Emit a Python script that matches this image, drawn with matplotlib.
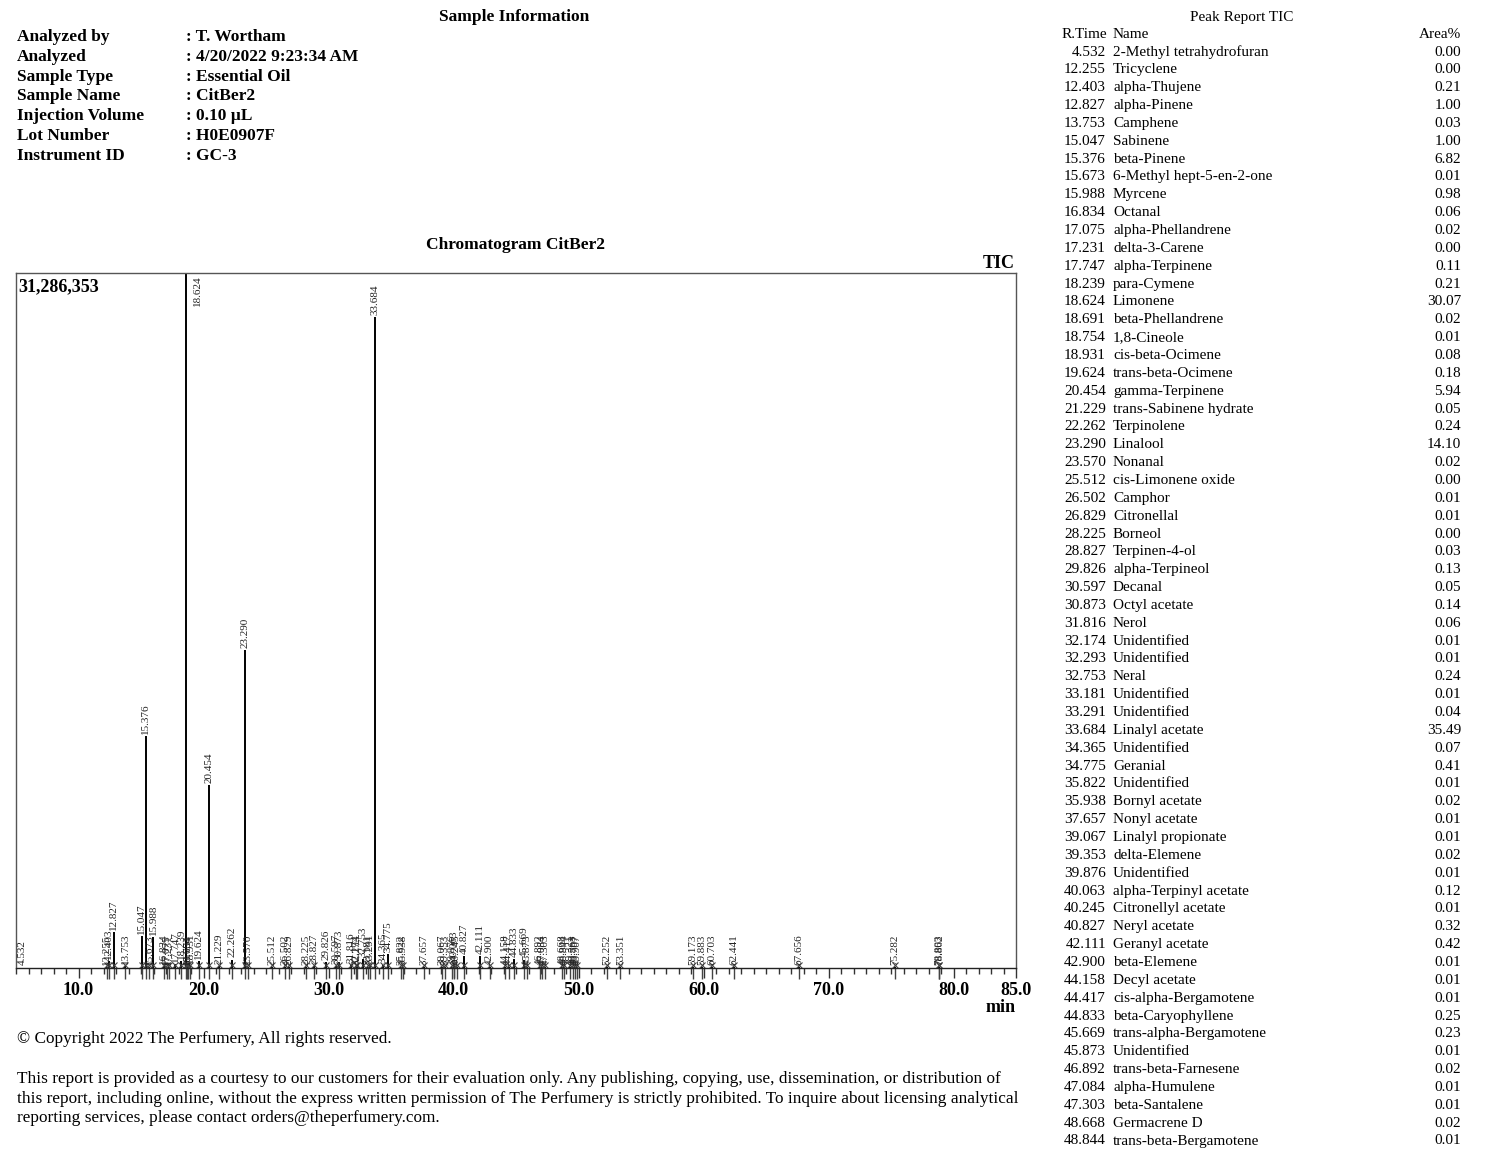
import matplotlib
matplotlib.use('Agg')
import matplotlib.pyplot as plt
from matplotlib.ticker import MultipleLocator

plt.rcParams['font.family'] = ['Liberation Serif', 'DejaVu Serif']

# ---- datos de la muestra ----
info_labels = ['Analyzed by', 'Analyzed', 'Sample Type', 'Sample Name',
               'Injection Volume', 'Lot Number', 'Instrument ID']
info_values = ['T. Wortham', '4/20/2022 9:23:34 AM', 'Essential Oil', 'CitBer2',
               '0.10 µL', 'H0E0907F', 'GC-3']

# ---- tabla de picos (Peak Report TIC) ----
table_rt = [4.532, 12.255, 12.403, 12.827, 13.753, 15.047, 15.376, 15.673, 15.988,
            16.834, 17.075, 17.231, 17.747, 18.239, 18.624, 18.691, 18.754, 18.931,
            19.624, 20.454, 21.229, 22.262, 23.290, 23.570, 25.512, 26.502, 26.829,
            28.225, 28.827, 29.826, 30.597, 30.873, 31.816, 32.174, 32.293, 32.753,
            33.181, 33.291, 33.684, 34.365, 34.775, 35.822, 35.938, 37.657, 39.067,
            39.353, 39.876, 40.063, 40.245, 40.827, 42.111, 42.900, 44.158, 44.417,
            44.833, 45.669, 45.873, 46.892, 47.084, 47.303, 48.668, 48.844]
table_name = ['2-Methyl tetrahydrofuran', 'Tricyclene', 'alpha-Thujene', 'alpha-Pinene',
              'Camphene', 'Sabinene', 'beta-Pinene', '6-Methyl hept-5-en-2-one', 'Myrcene',
              'Octanal', 'alpha-Phellandrene', 'delta-3-Carene', 'alpha-Terpinene',
              'para-Cymene', 'Limonene', 'beta-Phellandrene', '1,8-Cineole',
              'cis-beta-Ocimene', 'trans-beta-Ocimene', 'gamma-Terpinene',
              'trans-Sabinene hydrate', 'Terpinolene', 'Linalool', 'Nonanal',
              'cis-Limonene oxide', 'Camphor', 'Citronellal', 'Borneol', 'Terpinen-4-ol',
              'alpha-Terpineol', 'Decanal', 'Octyl acetate', 'Nerol', 'Unidentified',
              'Unidentified', 'Neral', 'Unidentified', 'Unidentified', 'Linalyl acetate',
              'Unidentified', 'Geranial', 'Unidentified', 'Bornyl acetate', 'Nonyl acetate',
              'Linalyl propionate', 'delta-Elemene', 'Unidentified', 'alpha-Terpinyl acetate',
              'Citronellyl acetate', 'Neryl acetate', 'Geranyl acetate', 'beta-Elemene',
              'Decyl acetate', 'cis-alpha-Bergamotene', 'beta-Caryophyllene',
              'trans-alpha-Bergamotene', 'Unidentified', 'trans-beta-Farnesene',
              'alpha-Humulene', 'beta-Santalene', 'Germacrene D', 'trans-beta-Bergamotene']
table_area = [0.00, 0.00, 0.21, 1.00, 0.03, 1.00, 6.82, 0.01, 0.98, 0.06, 0.02, 0.00,
              0.11, 0.21, 30.07, 0.02, 0.01, 0.08, 0.18, 5.94, 0.05, 0.24, 14.10, 0.02,
              0.00, 0.01, 0.01, 0.00, 0.03, 0.13, 0.05, 0.14, 0.06, 0.01, 0.01, 0.24,
              0.01, 0.04, 35.49, 0.07, 0.41, 0.01, 0.02, 0.01, 0.01, 0.02, 0.01, 0.12,
              0.01, 0.32, 0.42, 0.01, 0.01, 0.01, 0.25, 0.23, 0.01, 0.02, 0.01, 0.01,
              0.02, 0.01]

# ---- cromatograma: tiempos de retención y alturas (cuentas) ----
max_intensity = 31286353
peak_rt = table_rt + [49.321, 49.563, 49.707, 49.907, 52.252, 53.351, 59.173, 59.883,
                      60.703, 62.441, 67.656, 75.282, 78.803, 78.862]
peak_height = [50000, 60000, 300000, 1620000, 80000, 1450000, 10450000, 60000, 1400000,
               100000, 60000, 40000, 180000, 330000, 31286353, 60000, 40000, 130000,
               300000, 8250000, 90000, 380000, 14300000, 60000, 30000, 40000, 40000,
               30000, 90000, 250000, 100000, 260000, 120000, 40000, 40000, 420000,
               40000, 80000, 29300000, 130000, 620000, 40000, 50000, 40000, 40000,
               50000, 40000, 230000, 40000, 520000, 520000, 40000, 40000, 40000,
               420000, 380000, 40000, 50000, 40000, 40000, 50000, 40000,
               40000, 40000, 40000, 40000, 40000, 40000, 40000, 40000,
               40000, 40000, 30000, 30000, 30000, 30000]

x_ticks = [10, 20, 30, 40, 50, 60, 70, 80, 85]

W, H = 1500, 1163


def fx(px):
    return px / W


def fy(py):
    return 1 - py / H


fig = plt.figure(figsize=(15, 11.63), dpi=100)

# ---- encabezado ----
fig.text(fx(514), fy(17), 'Sample Information', ha='center', va='center',
         weight='bold', size=12.5)
for i, (lab, val) in enumerate(zip(info_labels, info_values)):
    y = 37 + i * 19.8
    fig.text(fx(17), fy(y), lab, ha='left', va='center', weight='bold', size=12.5)
    fig.text(fx(186), fy(y), ': ' + val, ha='left', va='center', weight='bold', size=12.5)

fig.text(fx(516), fy(245), 'Chromatogram CitBer2', ha='center', va='center',
         weight='bold', size=12.5)
fig.text(fx(1015), fy(264), 'TIC', ha='right', va='center', weight='bold', size=13)

# ---- ejes del cromatograma ----
ax = fig.add_axes([fx(16), fy(968), 1000 / W, 695 / H])
ax.set_xlim(5, 85)
ax.set_ylim(0, max_intensity)
for s in ax.spines.values():
    s.set_color('#555555')
    s.set_linewidth(1.0)
ax.spines['bottom'].set_color('#222222')
ax.set_yticks([])
ax.set_xticks(x_ticks)
ax.set_xticklabels([f'{t:.1f}' for t in x_ticks], weight='bold', size=13)
ax.xaxis.set_minor_locator(MultipleLocator(1))
ax.tick_params(axis='x', which='major', direction='out', length=7, width=1,
               color='#333333', pad=3)
ax.tick_params(axis='x', which='minor', direction='out', length=4, width=1,
               color='#333333')

ax.text(0.002, 0.992, f'{max_intensity:,}', transform=ax.transAxes, ha='left', va='top',
        weight='bold', size=13)

# picos
ax.vlines(peak_rt, 0, peak_height, color='black', linewidth=1.4)

visible = [(rt, h) for rt, h in zip(peak_rt, peak_height) if rt > 5]
vis_rt = [v[0] for v in visible]
# marcas de inicio/fin bajo la línea base
ax.vlines(vis_rt, -0.016, 0, transform=ax.get_xaxis_transform(), clip_on=False,
          color='#444444', linewidth=1.0)
ax.plot(vis_rt, [0.0045] * len(vis_rt), transform=ax.get_xaxis_transform(),
        linestyle='', marker='x', markersize=4.5, markeredgewidth=0.8, color='#444444',
        clip_on=False)

# etiquetas de los picos
for rt, h in zip(peak_rt, peak_height):
    lab = f'{rt:.3f}'
    xl = max(rt, 5.5)
    if h >= max_intensity * 0.99:
        ax.annotate(lab, xy=(xl, max_intensity), xytext=(5, -2), textcoords='offset points',
                    rotation=90, ha='left', va='top', size=8, color='#222222')
    else:
        ax.annotate(lab, xy=(xl, h), xytext=(0, 1.5), textcoords='offset points',
                    rotation=90, ha='center', va='bottom', size=8, color='#222222')

fig.text(fx(1016), fy(1008), 'min', ha='right', va='center', weight='bold', size=13)

# ---- pie de página ----
fig.text(fx(17), fy(1039), '© Copyright 2022 The Perfumery, All rights reserved.',
         ha='left', va='center', size=12.4)
footer = ['This report is provided as a courtesy to our customers for their evaluation only. '
          'Any publishing, copying, use, dissemination, or distribution of',
          'this report, including online, without the express written permission of The '
          'Perfumery is strictly prohibited. To inquire about licensing analytical',
          'reporting services, please contact orders@theperfumery.com.']
for i, line in enumerate(footer):
    fig.text(fx(17), fy(1079 + i * 19.7), line, ha='left', va='center', size=12.4)

# ---- tabla de picos ----
fig.text(fx(1242), fy(17), 'Peak Report TIC', ha='center', va='center', size=11)
fig.text(fx(1107), fy(34), 'R.Time', ha='right', va='center', size=11)
fig.text(fx(1113), fy(34), 'Name', ha='left', va='center', size=11)
fig.text(fx(1461), fy(34), 'Area%', ha='right', va='center', size=11)
step = (1141 - 52) / (len(table_rt) - 1)
for i, (rt, name, area) in enumerate(zip(table_rt, table_name, table_area)):
    y = fy(52 + i * step)
    fig.text(fx(1106), y, f'{rt:.3f}', ha='right', va='center', size=11)
    fig.text(fx(1113), y, name, ha='left', va='center', size=11)
    fig.text(fx(1461), y, f'{area:.2f}', ha='right', va='center', size=11)

fig.savefig('out.png', dpi=100)
